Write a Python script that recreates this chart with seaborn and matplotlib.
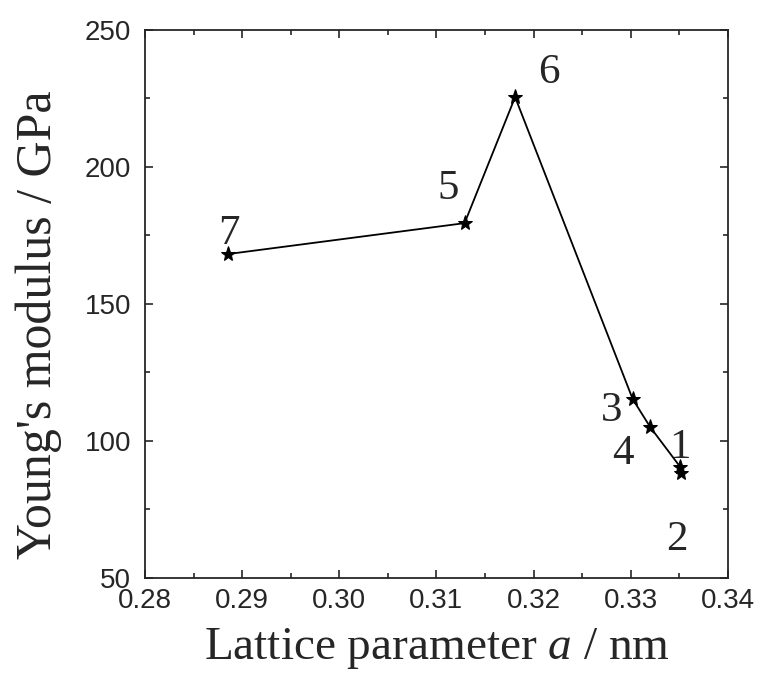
import matplotlib
matplotlib.use("Agg")
import matplotlib.pyplot as plt
import seaborn as sns
import pandas as pd
from matplotlib.ticker import MultipleLocator

# Data
lattice_a = [0.2885, 0.3129, 0.3181, 0.3302, 0.3320, 0.3351, 0.3352]
youngs = [168.2, 179.5, 225.5, 115.3, 105.1, 90.5, 88.3]
point_ids = ["7", "5", "6", "3", "4", "1", "2"]
label_x = [0.2886, 0.3112, 0.3216, 0.3280, 0.3292, 0.3351, 0.3347]
label_y = [175.5, 192, 234.5, 111, 95.5, 97.5, 64]

df = pd.DataFrame({"a": lattice_a, "E": youngs})

sns.set_style("ticks")
plt.rcParams["font.family"] = ["Liberation Sans", "DejaVu Sans"]
plt.rcParams["mathtext.fontset"] = "custom"
plt.rcParams["mathtext.it"] = "Liberation Serif:italic"
plt.rcParams["mathtext.rm"] = "Liberation Serif"

fig = plt.figure(figsize=(7.59, 6.78), dpi=100)
ax = fig.add_axes([0.191, 0.1475, 0.768, 0.8083])

sns.lineplot(data=df, x="a", y="E", sort=False, color="black", linewidth=1.3,
             marker="*", markersize=11, markeredgecolor="black", ax=ax)

for lx, ly, t in zip(label_x, label_y, point_ids):
    ax.text(lx, ly, t, fontsize=31, family="Liberation Serif", ha="center", va="center")

ax.set_xlim(0.28, 0.34)
ax.set_ylim(50, 250)
ax.xaxis.set_minor_locator(MultipleLocator(0.005))
ax.yaxis.set_major_locator(MultipleLocator(50))
ax.yaxis.set_minor_locator(MultipleLocator(25))
ax.set_xticks([0.28, 0.29, 0.30, 0.31, 0.32, 0.33, 0.34])
ax.set_xticklabels(["0.28", "0.29", "0.30", "0.31", "0.32", "0.33", "0.34"])

ax.tick_params(which="both", direction="in", top=True, right=True, labelsize=20, width=1.2)
ax.tick_params(which="major", length=6)
ax.tick_params(which="minor", length=3.5)
ax.tick_params(axis="x", pad=7)
ax.tick_params(axis="y", pad=10)
for sp in ax.spines.values():
    sp.set_linewidth(1.3)

ax.set_xlabel(r"Lattice parameter $a$ / nm", fontsize=34, family="Liberation Serif", labelpad=9)
ax.set_ylabel("Young's modulus / GPa", fontsize=36, family="Liberation Serif")
ax.yaxis.set_label_coords(-0.142, 0.462)

fig.savefig("out.png", dpi=100)
